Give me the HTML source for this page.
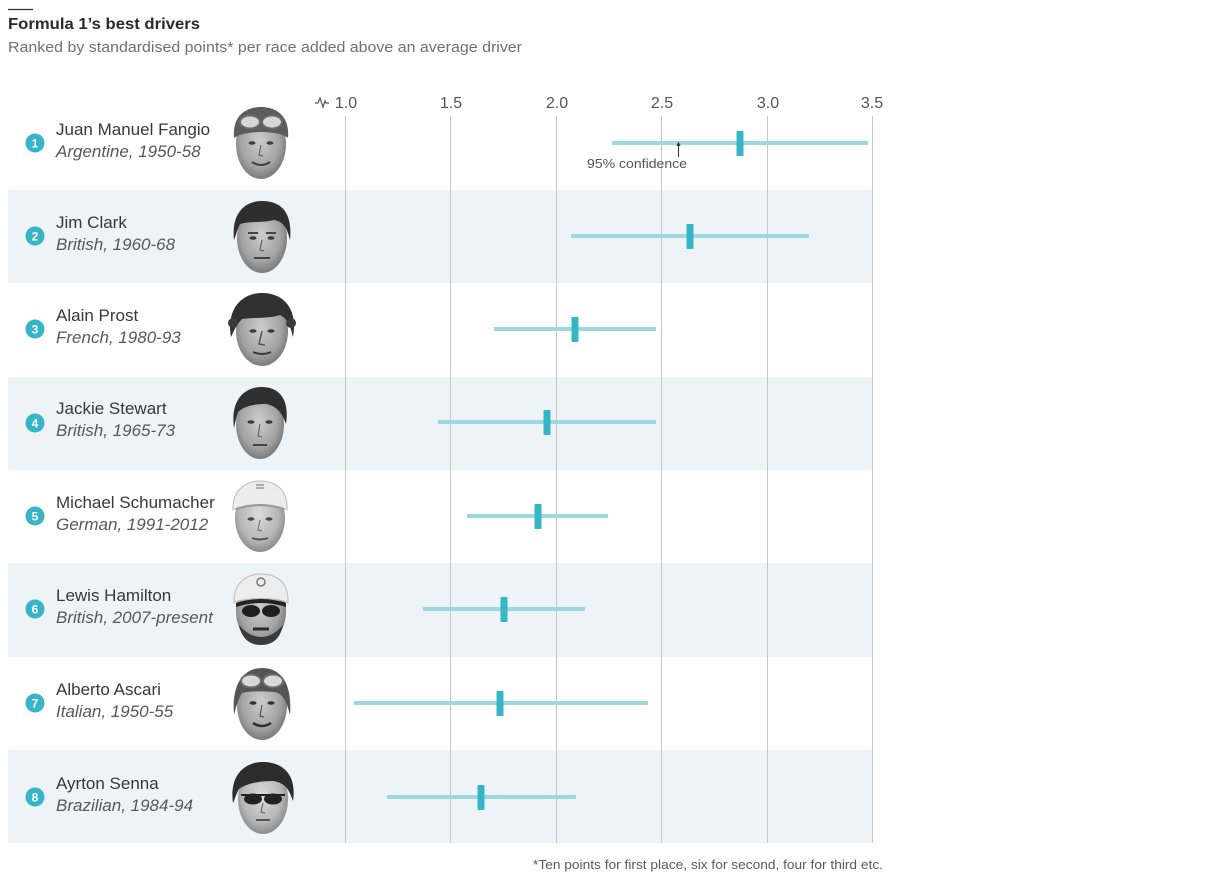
<!DOCTYPE html>
<html>
<head>
<meta charset="utf-8">
<style>
  html,body{margin:0;padding:0;background:#fff;}
  body{width:1218px;height:873px;overflow:hidden;}
  svg{display:block;font-family:"Liberation Sans",sans-serif;}
</style>
</head>
<body>
<svg width="1218" height="873" viewBox="0 0 1218 873" xmlns="http://www.w3.org/2000/svg">
  <defs>
    <radialGradient id="skin" cx="48%" cy="45%" r="60%">
      <stop offset="0" stop-color="#cdcdcd"/>
      <stop offset="0.65" stop-color="#a3a3a3"/>
      <stop offset="1" stop-color="#6e6e6e"/>
    </radialGradient>
    <radialGradient id="skinL" cx="48%" cy="45%" r="60%">
      <stop offset="0" stop-color="#dcdcdc"/>
      <stop offset="0.65" stop-color="#b6b6b6"/>
      <stop offset="1" stop-color="#808080"/>
    </radialGradient>
  </defs>

  <!-- title -->
  <line x1="8" y1="9.5" x2="33" y2="9.5" stroke="#333" stroke-width="1.2"/>
  <text x="8" y="29" font-size="16" font-weight="bold" fill="#2a2a2a" textLength="192" lengthAdjust="spacingAndGlyphs">Formula 1’s best drivers</text>
  <text x="8" y="52" font-size="15" fill="#707070" textLength="514" lengthAdjust="spacingAndGlyphs">Ranked by standardised points* per race added above an average driver</text>

  <!-- bands -->
  <rect x="8" y="190" width="864" height="93" fill="#edf3f6"/>
  <rect x="8" y="377" width="864" height="93" fill="#edf3f6"/>
  <rect x="8" y="563" width="864" height="94" fill="#edf3f6"/>
  <rect x="8" y="750" width="864" height="93" fill="#edf3f6"/>

  <!-- gridlines -->
  <g stroke="#c6c6c6" stroke-width="1">
    <line x1="345.5" y1="116" x2="345.5" y2="843"/>
    <line x1="450.5" y1="116" x2="450.5" y2="843"/>
    <line x1="556.5" y1="116" x2="556.5" y2="843"/>
    <line x1="661.5" y1="116" x2="661.5" y2="843"/>
    <line x1="767.5" y1="116" x2="767.5" y2="843"/>
    <line x1="872.5" y1="116" x2="872.5" y2="843"/>
  </g>

  <!-- axis labels -->
  <g font-size="16" fill="#555" text-anchor="middle">
    <text x="346" y="108">1.0</text>
    <text x="451" y="108">1.5</text>
    <text x="557" y="108">2.0</text>
    <text x="662" y="108">2.5</text>
    <text x="768" y="108">3.0</text>
    <text x="872" y="108">3.5</text>
  </g>
  <path d="M315,103 L318,103 L320,98 L323,107 L325,101 L326,103 L329,103" stroke="#555" stroke-width="1.2" fill="none"/>

  <!-- bars -->
  <g stroke="#9dd8e0" stroke-width="4" stroke-linecap="butt">
    <line x1="612" y1="143" x2="868" y2="143"/>
    <line x1="571" y1="236" x2="809" y2="236"/>
    <line x1="494" y1="329" x2="656" y2="329"/>
    <line x1="438" y1="422" x2="656" y2="422"/>
    <line x1="467" y1="516" x2="608" y2="516"/>
    <line x1="423" y1="609" x2="585" y2="609"/>
    <line x1="354" y1="703" x2="648" y2="703"/>
    <line x1="387" y1="797" x2="576" y2="797"/>
  </g>
  <g fill="#35b5c5">
    <rect x="736.5" y="131" width="7" height="25" rx="1"/>
    <rect x="686.5" y="224" width="7" height="25" rx="1"/>
    <rect x="571.5" y="317" width="7" height="25" rx="1"/>
    <rect x="543.5" y="410" width="7" height="25" rx="1"/>
    <rect x="534.5" y="504" width="7" height="25" rx="1"/>
    <rect x="500.5" y="597" width="7" height="25" rx="1"/>
    <rect x="496.5" y="691" width="7" height="25" rx="1"/>
    <rect x="477.5" y="785" width="7" height="25" rx="1"/>
  </g>

  <!-- confidence annotation -->
  <line x1="678.5" y1="143" x2="678.5" y2="157" stroke="#333" stroke-width="1"/>
  <path d="M676.5,146 L678.5,141.5 L680.5,146 Z" fill="#333"/>
  <text x="637" y="168" font-size="13" fill="#555" text-anchor="middle" textLength="100" lengthAdjust="spacingAndGlyphs">95% confidence</text>

  <!-- number circles -->
  <g fill="#35b5c5">
    <circle cx="35" cy="143" r="9.5"/>
    <circle cx="35" cy="236" r="9.5"/>
    <circle cx="35" cy="329" r="9.5"/>
    <circle cx="35" cy="423" r="9.5"/>
    <circle cx="35" cy="516" r="9.5"/>
    <circle cx="35" cy="609" r="9.5"/>
    <circle cx="35" cy="703" r="9.5"/>
    <circle cx="35" cy="797" r="9.5"/>
  </g>
  <g fill="#fff" font-size="12" font-weight="bold" text-anchor="middle">
    <text x="35" y="147.5">1</text>
    <text x="35" y="240.5">2</text>
    <text x="35" y="333.5">3</text>
    <text x="35" y="427.5">4</text>
    <text x="35" y="520.5">5</text>
    <text x="35" y="613.5">6</text>
    <text x="35" y="707.5">7</text>
    <text x="35" y="801.5">8</text>
  </g>

  <!-- names -->
  <g font-size="17" fill="#383838">
    <text x="56" y="135">Juan Manuel Fangio</text>
    <text x="56" y="228">Jim Clark</text>
    <text x="56" y="321">Alain Prost</text>
    <text x="56" y="414">Jackie Stewart</text>
    <text x="56" y="508">Michael Schumacher</text>
    <text x="56" y="601">Lewis Hamilton</text>
    <text x="56" y="695">Alberto Ascari</text>
    <text x="56" y="789">Ayrton Senna</text>
  </g>
  <g font-size="17" fill="#585858" font-style="italic">
    <text x="56" y="157">Argentine, 1950-58</text>
    <text x="56" y="250">British, 1960-68</text>
    <text x="56" y="343">French, 1980-93</text>
    <text x="56" y="436">British, 1965-73</text>
    <text x="56" y="530">German, 1991-2012</text>
    <text x="56" y="623">British, 2007-present</text>
    <text x="56" y="717">Italian, 1950-55</text>
    <text x="56" y="811">Brazilian, 1984-94</text>
  </g>

  <!-- faces -->
  <g transform="translate(261,144)">
    <ellipse rx="25" ry="35" fill="url(#skin)"/>
    <path d="M-27,-6 C-29,-30 -13,-37 0,-37 C13,-37 29,-30 27,-6 C18,-14 -18,-14 -27,-6Z" fill="#5c5c5c"/>
    <ellipse cx="-11" cy="-22" rx="10" ry="6.5" fill="#d6d6d6" stroke="#6a6a6a" stroke-width="2"/>
    <ellipse cx="11" cy="-22" rx="10" ry="6.5" fill="#d6d6d6" stroke="#6a6a6a" stroke-width="2"/>
    <ellipse cx="-9" cy="-1" rx="3.5" ry="1.8" fill="#3e3e3e"/>
    <ellipse cx="9" cy="-1" rx="3.5" ry="1.8" fill="#3e3e3e"/>
    <path d="M0,1 L-2,11 L2,12" stroke="#666" fill="none" stroke-width="1.2"/>
    <path d="M-9,18 Q0,24 9,18" stroke="#3e3e3e" stroke-width="2" fill="none"/>
  </g>
  <g transform="translate(262,238)">
    <ellipse rx="25" ry="35" fill="url(#skin)"/>
    <path d="M-28,2 C-31,-26 -16,-37 0,-37 C17,-37 31,-28 28,2 C25,-10 22,-16 12,-18 C0,-15 -12,-17 -22,-14 C-25,-8 -26,-3 -28,2Z" fill="#2e2e2e"/>
    <path d="M-14,-5 L-4,-5 M4,-5 L14,-5" stroke="#444" stroke-width="2"/>
    <ellipse cx="-9" cy="0" rx="3.5" ry="1.8" fill="#3a3a3a"/>
    <ellipse cx="9" cy="0" rx="3.5" ry="1.8" fill="#3a3a3a"/>
    <path d="M0,2 L-2,12 L2,13" stroke="#666" fill="none" stroke-width="1.2"/>
    <path d="M-8,20 L8,20" stroke="#444" stroke-width="2"/>
  </g>
  <g transform="translate(262,331)">
    <ellipse rx="26" ry="35" fill="url(#skin)"/>
    <path d="M-31,6 C-36,-22 -20,-38 0,-38 C22,-38 36,-22 31,6 C28,-6 26,-12 18,-16 C6,-12 -8,-14 -20,-12 C-26,-6 -28,0 -31,6Z" fill="#303030"/>
    <circle cx="-29" cy="-8" r="5" fill="#3a3a3a"/>
    <circle cx="29" cy="-8" r="5" fill="#3a3a3a"/>
    <ellipse cx="-9" cy="0" rx="3.5" ry="1.8" fill="#3a3a3a"/>
    <ellipse cx="9" cy="0" rx="3.5" ry="1.8" fill="#3a3a3a"/>
    <path d="M0,0 L-3,13 L3,14" stroke="#555" fill="none" stroke-width="1.5"/>
    <path d="M-9,21 Q0,25 9,21" stroke="#3a3a3a" stroke-width="2" fill="none"/>
  </g>
  <g transform="translate(260,424)">
    <ellipse rx="24" ry="35" fill="url(#skin)"/>
    <path d="M-26,4 C-30,-26 -14,-37 2,-37 C18,-37 30,-26 26,0 C22,-12 16,-18 6,-20 C-6,-20 -16,-18 -22,-12 C-24,-6 -25,-1 -26,4Z" fill="#2f2f2f"/>
    <ellipse cx="-9" cy="-2" rx="3.5" ry="1.8" fill="#3a3a3a"/>
    <ellipse cx="9" cy="-2" rx="3.5" ry="1.8" fill="#3a3a3a"/>
    <path d="M0,0 L-2,12 L2,13" stroke="#666" fill="none" stroke-width="1.2"/>
    <path d="M-7,21 L7,21" stroke="#444" stroke-width="2"/>
  </g>
  <g transform="translate(260,518)">
    <ellipse rx="25" ry="34" fill="url(#skinL)"/>
    <path d="M-27,-8 C-28,-30 -12,-37 0,-37 C14,-37 28,-30 27,-8 C18,-14 -18,-14 -27,-8Z" fill="#ececec" stroke="#bbb" stroke-width="1"/>
    <path d="M-24,-9 Q0,-17 24,-9" stroke="#999" stroke-width="2" fill="none"/>
    <path d="M-4,-33 L4,-33 M-4,-30 L4,-30" stroke="#999" stroke-width="1.5"/>
    <ellipse cx="-9" cy="1" rx="3.5" ry="1.8" fill="#4a4a4a"/>
    <ellipse cx="9" cy="1" rx="3.5" ry="1.8" fill="#4a4a4a"/>
    <path d="M0,2 L-2,12 L2,13" stroke="#777" fill="none" stroke-width="1.2"/>
    <path d="M-8,20 Q0,23 8,20" stroke="#555" stroke-width="2" fill="none"/>
  </g>
  <g transform="translate(261,611)">
    <ellipse rx="25" ry="34" fill="url(#skin)"/>
    <path d="M-27,-8 C-28,-30 -12,-37 0,-37 C14,-37 28,-30 27,-8 C18,-14 -18,-14 -27,-8Z" fill="#ededed" stroke="#bbb" stroke-width="1"/>
    <circle cx="0" cy="-29" r="4" fill="none" stroke="#777" stroke-width="1.5"/>
    <path d="M-25,-8 Q0,-16 25,-8 L25,-4 Q0,-12 -25,-4Z" fill="#222"/>
    <ellipse cx="-10" cy="0" rx="9" ry="6" fill="#1e1e1e"/>
    <ellipse cx="10" cy="0" rx="9" ry="6" fill="#1e1e1e"/>
    <path d="M-22,14 Q-18,34 0,34 Q18,34 22,14 Q12,26 0,26 Q-12,26 -22,14Z" fill="#3a3a3a"/>
    <path d="M-8,18 L8,18" stroke="#2a2a2a" stroke-width="3"/>
  </g>
  <g transform="translate(262,705)">
    <ellipse rx="25" ry="35" fill="url(#skin)"/>
    <path d="M-28,10 C-31,-28 -13,-37 0,-37 C14,-37 31,-28 28,10 C24,-6 20,-12 12,-13 C0,-14 -12,-14 -20,-12 C-24,-6 -26,2 -28,10Z" fill="#555"/>
    <ellipse cx="-11" cy="-24" rx="10" ry="6.5" fill="#d8d8d8" stroke="#6a6a6a" stroke-width="2"/>
    <ellipse cx="11" cy="-24" rx="10" ry="6.5" fill="#d8d8d8" stroke="#6a6a6a" stroke-width="2"/>
    <ellipse cx="-9" cy="-2" rx="3.5" ry="1.8" fill="#333"/>
    <ellipse cx="9" cy="-2" rx="3.5" ry="1.8" fill="#333"/>
    <path d="M0,0 L-2,11 L2,12" stroke="#555" fill="none" stroke-width="1.2"/>
    <path d="M-9,18 Q0,24 9,18" stroke="#2e2e2e" stroke-width="2.5" fill="none"/>
  </g>
  <g transform="translate(263,799)">
    <ellipse rx="25" ry="35" fill="url(#skinL)"/>
    <path d="M-30,4 C-34,-24 -18,-37 0,-37 C20,-37 34,-24 30,2 C26,-10 22,-16 10,-18 C-2,-18 -16,-16 -24,-10 C-27,-5 -28,0 -30,4Z" fill="#2c2c2c"/>
    <path d="M-22,-4 L22,-4" stroke="#222" stroke-width="2"/>
    <ellipse cx="-10" cy="0" rx="9" ry="5.5" fill="#222"/>
    <ellipse cx="10" cy="0" rx="9" ry="5.5" fill="#222"/>
    <path d="M0,4 L-2,13 L2,14" stroke="#666" fill="none" stroke-width="1.2"/>
    <path d="M-7,21 L7,21" stroke="#555" stroke-width="2"/>
  </g>

  <!-- footnote -->
  <text x="883" y="869" font-size="13" fill="#5a5a5a" text-anchor="end" textLength="350" lengthAdjust="spacingAndGlyphs">*Ten points for first place, six for second, four for third etc.</text>
</svg>
</body>
</html>
